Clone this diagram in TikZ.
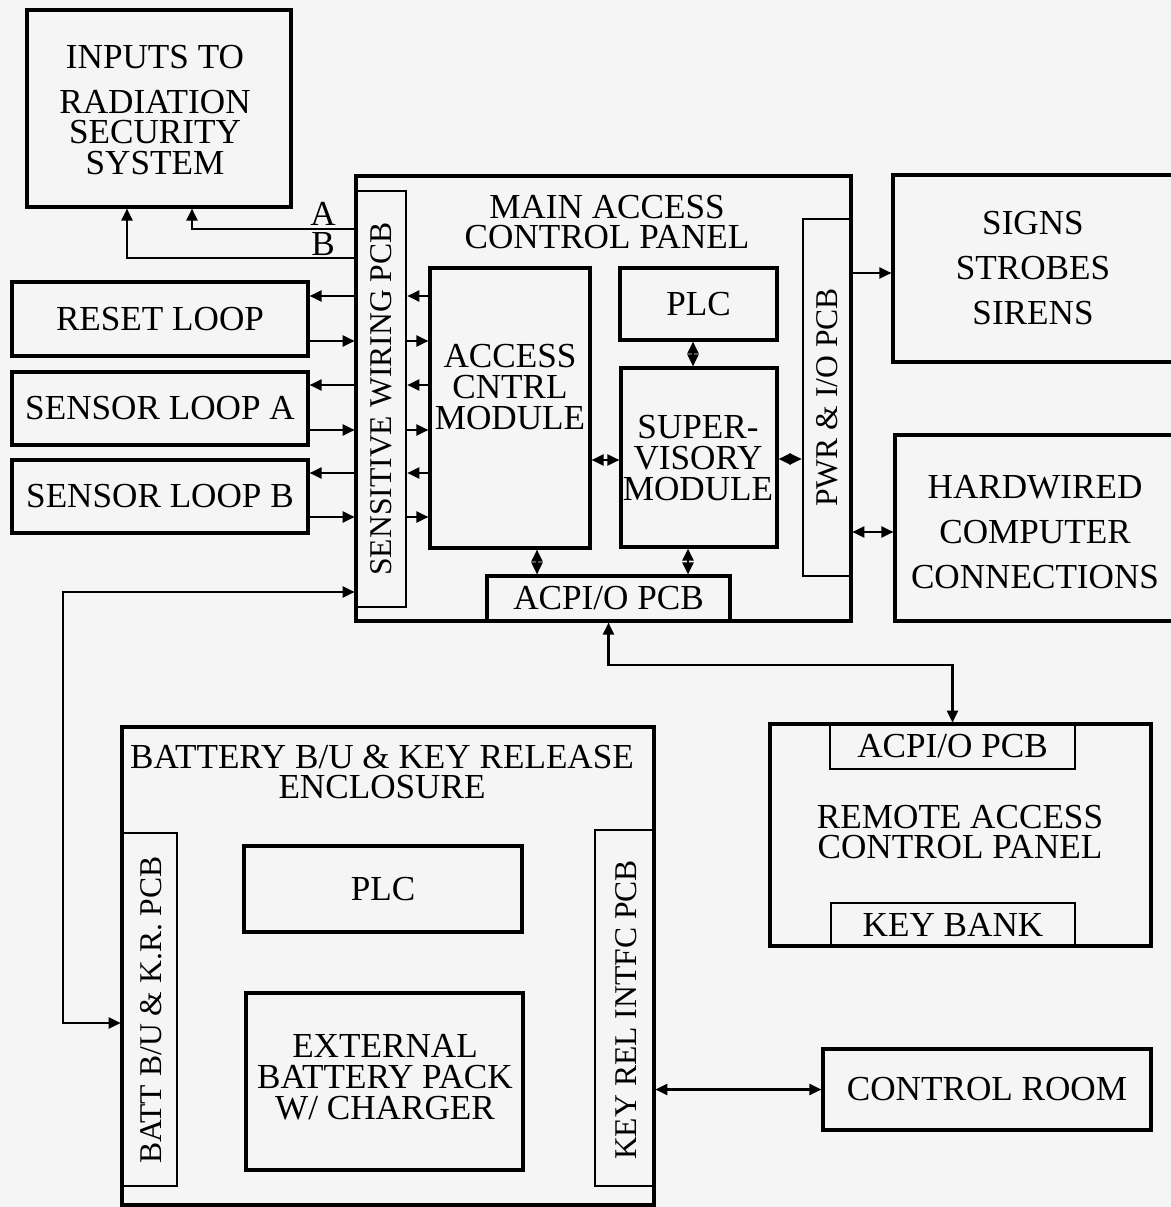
\documentclass[tikz,border=0pt]{standalone}
\usepackage{fontspec}
\setmainfont{Liberation Serif}
\usetikzlibrary{arrows.meta,fit}
\tikzset{
  acbox/.style={draw=black, line width=1.8pt, inner sep=0pt},
  acpcb/.style={draw=black, line width=1.5pt, inner sep=0pt},
  actext/.style={inner sep=0pt, align=center, font=\fontsize{20}{17.5}\selectfont},
  acvtext/.style={inner sep=0pt, rotate=90, font=\fontsize{18}{18}\selectfont},
  acarr/.style={line width=1.2pt, -{Triangle[length=2.4mm,width=2.2mm]}},
  acdarr/.style={line width=1.2pt, {Triangle[length=2.4mm,width=2.2mm]}-{Triangle[length=2.4mm,width=2.2mm]}},
}

\begin{document}
\begin{tikzpicture}[x=0.2mm,y=-0.2mm]
\fill[black!4] (0,0) rectangle (1171,1207);
\useasboundingbox (0,0) rectangle (1171,1207);
% top left and loops
\node[acbox, fit={(27,10) (291,207)}] (inputs) {};
\node[actext] (inputslbl) at (155,110) {INPUTS TO\\[8pt]RADIATION\\SECURITY\\SYSTEM};
\node[acbox, fit={(12,282) (308,356)}] (reset) {};
\node[actext] (resetlbl) at (reset) {RESET LOOP};
\node[acbox, fit={(12,372) (308,445)}] (sensa) {};
\node[actext] (sensalbl) at (sensa) {SENSOR LOOP A};
\node[acbox, fit={(12,460) (308,533)}] (sensb) {};
\node[actext] (sensblbl) at (sensb) {SENSOR LOOP B};
% main panel
\node[acbox, fit={(356,176) (851,621)}] (mainpanel) {};
\node[actext] (maintitle) at (607,222) {MAIN ACCESS\\CONTROL PANEL};
\node[acpcb, fit={(356,191) (406,607)}] (swpcb) {};
\node[acvtext] (swlbl) at (swpcb.center) {SENSITIVE WIRING PCB};
\node[acbox, fit={(430,268) (590,548)}] (acm) {};
\node[actext] (acmlbl) at (510,387) {ACCESS\\CNTRL\\MODULE};
\node[acbox, fit={(620,268) (777,340)}] (plc) {};
\node[actext] (plclbl) at (plc) {PLC};
\node[acbox, fit={(621,368) (777,547)}] (svm) {};
\node[actext] (svmlbl) at (698,458) {SUPER-\\VISORY\\MODULE};
\node[acpcb, fit={(803,219) (851,576)}] (pwrpcb) {};
\node[acvtext] (pwrlbl) at (pwrpcb.center) {PWR \& I/O PCB};
\node[acbox, fit={(487,576) (730,621)}] (acpio) {};
\node[actext] (acpiolbl) at (acpio) {ACPI/O PCB};
% right side
\node[acbox, fit={(893,175) (1176,362)}] (signs) {};
\node[actext] (signslbl) at (1033,268) {SIGNS\\[8pt]STROBES\\[8pt]SIRENS};
\node[acbox, fit={(895,435) (1176,621)}] (hardwired) {};
\node[actext] (hardwiredlbl) at (1035,532) {HARDWIRED\\[8pt]COMPUTER\\[8pt]CONNECTIONS};
% battery enclosure
\node[acbox, fit={(122,727) (654,1205)}] (battencl) {};
\node[actext] (batttitle) at (382,772) {BATTERY B/U \& KEY RELEASE\\ENCLOSURE};
\node[acpcb, fit={(122,833) (177,1186)}] (battpcb) {};
\node[acvtext] (battlbl) at (151,1010) {BATT B/U \& K.R. PCB};
\node[acpcb, fit={(595,830) (654,1186)}] (keypcb) {};
\node[acvtext] (keylbl) at (626,1010) {KEY REL INTFC PCB};
\node[acbox, fit={(244,846) (522,932)}] (bplc) {};
\node[actext] (bplclbl) at (bplc) {PLC};
\node[acbox, fit={(246,993) (523,1170)}] (extbat) {};
\node[actext] (extbatlbl) at (385,1077) {EXTERNAL\\BATTERY PACK\\W/ CHARGER};
% remote panel
\node[acbox, fit={(770,724) (1151,946)}] (remote) {};
\node[actext] (remotetitle) at (960,832) {REMOTE ACCESS\\CONTROL PANEL};
\node[acpcb, fit={(830,724) (1075,769)}] (racpio) {};
\node[actext] (racpiolbl) at (racpio) {ACPI/O PCB};
\node[acpcb, fit={(831,903) (1075,946)}] (keybank) {};
\node[actext] (keybanklbl) at (keybank) {KEY BANK};
\node[acbox, fit={(823,1049) (1151,1130)}] (ctrlroom) {};
\node[actext] (ctrlroomlbl) at (ctrlroom) {CONTROL ROOM};

% A / B outputs
\node[actext] (alabel) at (323,214) {A};
\node[actext] (blabel) at (323,244) {B};
\draw[acarr] (swpcb.west |- 0,229) -| (inputs.south -| 192,0);
\draw[acarr] (swpcb.west |- 0,258) -| (inputs.south -| 127,0);
% loop signals
\foreach \lp/\yo/\yi in {reset/296/341, sensa/385/430, sensb/473/517} {
  \draw[acarr] (swpcb.west |- 0,\yo) -- (\lp.east |- 0,\yo);
  \draw[acarr] (\lp.east |- 0,\yi) -- (swpcb.west |- 0,\yi);
  \draw[acarr] (acm.west |- 0,\yo) -- (swpcb.east |- 0,\yo);
  \draw[acarr] (swpcb.east |- 0,\yi) -- (acm.west |- 0,\yi);
}
% inside main panel
\draw[acdarr] (plc.south -| 693,0) -- (svm.north -| 693,0);
\draw[acdarr] (acm.east |- 0,460) -- (svm.west |- 0,460);
\draw[acdarr] (svm.east |- 0,459) -- (pwrpcb.west |- 0,459);
\draw[acdarr] (acm.south -| 537,0) -- (acpio.north -| 537,0);
\draw[acdarr] (svm.south -| 688,0) -- (acpio.north -| 688,0);
% outputs
\draw[acarr] (pwrpcb.east |- 0,273) -- (signs.west |- 0,273);
\draw[acdarr] (pwrpcb.east |- 0,532) -- (hardwired.west |- 0,532);
% buses
\coordinate (lbus) at (63,592);
\draw[acdarr] (swpcb.west |- lbus) -- (lbus) |- (battpcb.west |- 0,1023);
\draw[acdarr] (acpio.south) |- (racpio.north |- 0,665) -- (racpio.north);
\draw[acdarr] (keypcb.east |- ctrlroom.west) -- (ctrlroom.west);
\end{tikzpicture}
\end{document}
